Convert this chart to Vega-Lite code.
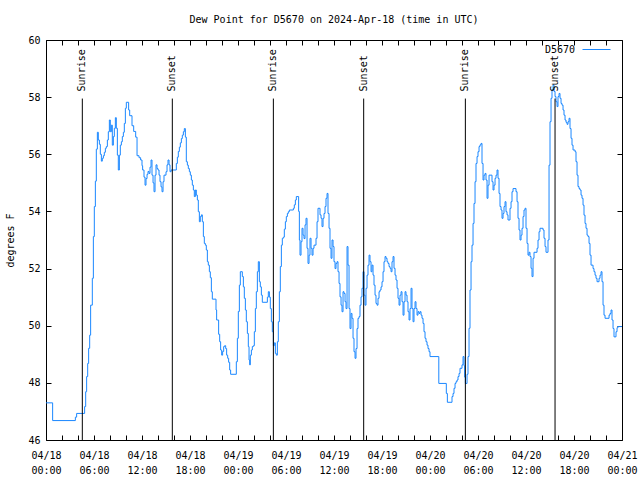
{
  "$schema": "https://vega.github.io/schema/vega-lite/v6.json",
  "width": 576,
  "height": 400,
  "autosize": {"type": "none"},
  "padding": {"left": 46, "top": 40, "right": 18, "bottom": 40},
  "title": {"text": "Dew Point for D5670 on 2024-Apr-18 (time in UTC)", "fontSize": 10, "fontWeight": "normal", "font": "DejaVu Sans Mono", "color": "#000000", "offset": 2, "baseline": "alphabetic", "anchor": "middle"},
  "config": {
    "font": "DejaVu Sans Mono",
    "view": {"stroke": "#000000", "strokeWidth": 1},
    "axis": {"grid": false, "domain": false, "tickColor": "#000000", "tickWidth": 1, "tickSize": -5, "labelColor": "#000000", "labelFontSize": 10, "labelFont": "DejaVu Sans Mono", "titleFont": "DejaVu Sans Mono", "titleFontSize": 10, "titleFontWeight": "normal", "titleColor": "#000000"}
  },
  "datasets": {
    "dew": [
      {"hour":0,"dewpoint":47.3},{"hour":0.83,"dewpoint":46.68},{"hour":3.67,"dewpoint":46.8},{"hour":3.83,"dewpoint":46.93},
      {"hour":4.83,"dewpoint":47.17},{"hour":4.96,"dewpoint":47.69},{"hour":5.08,"dewpoint":48.22},{"hour":5.21,"dewpoint":48.68},
      {"hour":5.33,"dewpoint":49.21},{"hour":5.46,"dewpoint":49.67},{"hour":5.58,"dewpoint":50.72},{"hour":5.79,"dewpoint":51.66},
      {"hour":5.92,"dewpoint":53.12},{"hour":6.04,"dewpoint":54.17},{"hour":6.17,"dewpoint":55.06},{"hour":6.29,"dewpoint":56.18},
      {"hour":6.42,"dewpoint":56.77},{"hour":6.54,"dewpoint":56.5},{"hour":6.67,"dewpoint":56.35},{"hour":6.79,"dewpoint":56.0},
      {"hour":6.92,"dewpoint":55.76},{"hour":7.04,"dewpoint":55.86},{"hour":7.17,"dewpoint":55.95},{"hour":7.29,"dewpoint":56.07},
      {"hour":7.42,"dewpoint":56.21},{"hour":7.54,"dewpoint":56.27},{"hour":7.67,"dewpoint":56.5},{"hour":7.79,"dewpoint":56.79},
      {"hour":7.92,"dewpoint":57.2},{"hour":8.04,"dewpoint":56.79},{"hour":8.17,"dewpoint":57.02},{"hour":8.29,"dewpoint":56.32},
      {"hour":8.42,"dewpoint":56.62},{"hour":8.54,"dewpoint":56.91},{"hour":8.67,"dewpoint":57.28},{"hour":8.79,"dewpoint":56.91},
      {"hour":8.92,"dewpoint":55.97},{"hour":9.04,"dewpoint":55.45},{"hour":9.17,"dewpoint":55.97},{"hour":9.29,"dewpoint":56.32},
      {"hour":9.42,"dewpoint":56.44},{"hour":9.54,"dewpoint":56.62},{"hour":9.67,"dewpoint":56.77},{"hour":9.79,"dewpoint":57.08},
      {"hour":9.92,"dewpoint":57.61},{"hour":10.04,"dewpoint":57.82},{"hour":10.33,"dewpoint":57.55},{"hour":10.46,"dewpoint":57.35},
      {"hour":10.75,"dewpoint":57.0},{"hour":10.96,"dewpoint":56.8},{"hour":11.21,"dewpoint":56.6},{"hour":11.38,"dewpoint":55.95},
      {"hour":11.63,"dewpoint":55.88},{"hour":11.83,"dewpoint":55.8},{"hour":12.0,"dewpoint":55.6},{"hour":12.08,"dewpoint":55.45},
      {"hour":12.25,"dewpoint":55.2},{"hour":12.38,"dewpoint":54.92},{"hour":12.5,"dewpoint":55.15},{"hour":12.63,"dewpoint":55.3},
      {"hour":12.75,"dewpoint":55.4},{"hour":12.88,"dewpoint":55.33},{"hour":13.0,"dewpoint":55.55},{"hour":13.13,"dewpoint":55.8},
      {"hour":13.25,"dewpoint":55.27},{"hour":13.38,"dewpoint":55.0},{"hour":13.5,"dewpoint":54.69},{"hour":13.63,"dewpoint":55.27},
      {"hour":13.75,"dewpoint":55.63},{"hour":13.88,"dewpoint":55.5},{"hour":14.0,"dewpoint":55.45},{"hour":14.13,"dewpoint":55.27},
      {"hour":14.25,"dewpoint":55.04},{"hour":14.38,"dewpoint":54.86},{"hour":14.5,"dewpoint":54.69},{"hour":14.63,"dewpoint":55.04},
      {"hour":14.75,"dewpoint":55.27},{"hour":15.0,"dewpoint":55.39},{"hour":15.13,"dewpoint":55.63},{"hour":15.25,"dewpoint":55.8},
      {"hour":15.38,"dewpoint":55.63},{"hour":15.5,"dewpoint":55.39},{"hour":15.63,"dewpoint":55.45},{"hour":16.29,"dewpoint":55.68},
      {"hour":16.42,"dewpoint":55.9},{"hour":16.54,"dewpoint":56.1},{"hour":16.67,"dewpoint":56.25},{"hour":16.79,"dewpoint":56.4},
      {"hour":16.92,"dewpoint":56.55},{"hour":17.04,"dewpoint":56.67},{"hour":17.17,"dewpoint":56.79},{"hour":17.29,"dewpoint":56.9},
      {"hour":17.42,"dewpoint":56.6},{"hour":17.54,"dewpoint":55.74},{"hour":17.67,"dewpoint":55.62},{"hour":17.79,"dewpoint":55.5},
      {"hour":17.92,"dewpoint":55.39},{"hour":18.04,"dewpoint":55.27},{"hour":18.17,"dewpoint":55.1},{"hour":18.29,"dewpoint":54.92},
      {"hour":18.42,"dewpoint":54.75},{"hour":18.54,"dewpoint":54.52},{"hour":18.67,"dewpoint":54.75},{"hour":18.79,"dewpoint":54.57},
      {"hour":18.92,"dewpoint":54.4},{"hour":19.04,"dewpoint":53.99},{"hour":19.17,"dewpoint":53.64},{"hour":19.29,"dewpoint":53.82},
      {"hour":19.42,"dewpoint":53.88},{"hour":19.54,"dewpoint":53.64},{"hour":19.67,"dewpoint":53.12},{"hour":19.79,"dewpoint":52.88},
      {"hour":19.92,"dewpoint":52.82},{"hour":20.04,"dewpoint":52.65},{"hour":20.17,"dewpoint":52.24},{"hour":20.29,"dewpoint":52.12},
      {"hour":20.42,"dewpoint":51.89},{"hour":20.54,"dewpoint":51.68},{"hour":20.67,"dewpoint":51.19},{"hour":20.79,"dewpoint":50.93},
      {"hour":21.25,"dewpoint":50.55},{"hour":21.33,"dewpoint":50.2},{"hour":21.58,"dewpoint":49.7},{"hour":21.71,"dewpoint":49.44},
      {"hour":21.83,"dewpoint":49.15},{"hour":21.96,"dewpoint":48.97},{"hour":22.08,"dewpoint":49.1},{"hour":22.21,"dewpoint":49.27},
      {"hour":22.33,"dewpoint":49.3},{"hour":22.46,"dewpoint":49.2},{"hour":22.58,"dewpoint":48.97},{"hour":22.71,"dewpoint":48.86},
      {"hour":22.83,"dewpoint":48.72},{"hour":22.96,"dewpoint":48.45},{"hour":23.08,"dewpoint":48.3},{"hour":23.79,"dewpoint":48.74},
      {"hour":23.92,"dewpoint":49.56},{"hour":24.04,"dewpoint":50.5},{"hour":24.17,"dewpoint":51.42},{"hour":24.29,"dewpoint":51.89},
      {"hour":24.54,"dewpoint":51.72},{"hour":24.67,"dewpoint":51.36},{"hour":24.79,"dewpoint":50.96},{"hour":24.92,"dewpoint":50.55},
      {"hour":25.04,"dewpoint":50.14},{"hour":25.17,"dewpoint":49.73},{"hour":25.29,"dewpoint":49.27},{"hour":25.38,"dewpoint":48.8},
      {"hour":25.46,"dewpoint":48.63},{"hour":25.54,"dewpoint":48.97},{"hour":25.67,"dewpoint":49.15},{"hour":25.79,"dewpoint":49.27},
      {"hour":25.92,"dewpoint":49.3},{"hour":26.04,"dewpoint":49.79},{"hour":26.17,"dewpoint":50.6},{"hour":26.29,"dewpoint":51.19},
      {"hour":26.42,"dewpoint":51.89},{"hour":26.54,"dewpoint":52.24},{"hour":26.67,"dewpoint":51.54},{"hour":26.79,"dewpoint":51.36},
      {"hour":26.92,"dewpoint":51.07},{"hour":27.04,"dewpoint":50.82},{"hour":27.67,"dewpoint":51.0},{"hour":27.79,"dewpoint":51.19},
      {"hour":27.92,"dewpoint":51.0},{"hour":28.04,"dewpoint":50.6},{"hour":28.17,"dewpoint":50.14},{"hour":28.29,"dewpoint":49.79},
      {"hour":28.42,"dewpoint":49.3},{"hour":28.54,"dewpoint":49.4},{"hour":28.67,"dewpoint":49.03},{"hour":28.79,"dewpoint":48.97},
      {"hour":28.92,"dewpoint":49.44},{"hour":29.04,"dewpoint":50.14},{"hour":29.17,"dewpoint":51.19},{"hour":29.29,"dewpoint":52.07},
      {"hour":29.42,"dewpoint":52.82},{"hour":29.54,"dewpoint":53.06},{"hour":29.67,"dewpoint":53.1},{"hour":29.79,"dewpoint":53.38},
      {"hour":29.92,"dewpoint":53.64},{"hour":30.04,"dewpoint":53.82},{"hour":30.17,"dewpoint":53.93},{"hour":30.29,"dewpoint":53.99},
      {"hour":30.42,"dewpoint":54.05},{"hour":30.92,"dewpoint":54.11},{"hour":31.04,"dewpoint":54.23},{"hour":31.17,"dewpoint":54.4},
      {"hour":31.29,"dewpoint":54.52},{"hour":31.58,"dewpoint":54.0},{"hour":31.67,"dewpoint":53.0},{"hour":31.75,"dewpoint":52.47},
      {"hour":31.88,"dewpoint":52.94},{"hour":32.0,"dewpoint":53.41},{"hour":32.13,"dewpoint":53.17},{"hour":32.25,"dewpoint":53.05},
      {"hour":32.38,"dewpoint":53.53},{"hour":32.5,"dewpoint":53.76},{"hour":32.63,"dewpoint":52.71},{"hour":32.75,"dewpoint":52.18},
      {"hour":32.88,"dewpoint":52.47},{"hour":33.0,"dewpoint":53.06},{"hour":33.13,"dewpoint":52.71},{"hour":33.25,"dewpoint":52.47},
      {"hour":33.38,"dewpoint":52.71},{"hour":33.5,"dewpoint":52.82},{"hour":33.75,"dewpoint":53.06},{"hour":33.88,"dewpoint":53.64},
      {"hour":34.0,"dewpoint":54.11},{"hour":34.25,"dewpoint":53.88},{"hour":34.38,"dewpoint":53.76},{"hour":34.5,"dewpoint":53.47},
      {"hour":34.63,"dewpoint":53.76},{"hour":34.75,"dewpoint":53.93},{"hour":34.88,"dewpoint":54.17},{"hour":35.0,"dewpoint":54.46},
      {"hour":35.13,"dewpoint":54.63},{"hour":35.25,"dewpoint":53.93},{"hour":35.38,"dewpoint":53.41},{"hour":35.5,"dewpoint":52.71},
      {"hour":35.63,"dewpoint":52.36},{"hour":35.75,"dewpoint":53.0},{"hour":35.88,"dewpoint":52.77},{"hour":36.0,"dewpoint":52.24},
      {"hour":36.13,"dewpoint":52.0},{"hour":36.25,"dewpoint":52.18},{"hour":36.38,"dewpoint":52.24},{"hour":36.5,"dewpoint":51.89},
      {"hour":36.63,"dewpoint":51.48},{"hour":36.75,"dewpoint":51.01},{"hour":36.88,"dewpoint":50.72},{"hour":37.0,"dewpoint":50.49},
      {"hour":37.13,"dewpoint":51.19},{"hour":37.25,"dewpoint":51.13},{"hour":37.38,"dewpoint":50.84},{"hour":37.5,"dewpoint":50.6},
      {"hour":37.63,"dewpoint":52.77},{"hour":37.75,"dewpoint":52.12},{"hour":37.88,"dewpoint":50.6},{"hour":38.0,"dewpoint":49.9},
      {"hour":38.13,"dewpoint":50.43},{"hour":38.25,"dewpoint":50.26},{"hour":38.38,"dewpoint":49.56},{"hour":38.5,"dewpoint":49.09},
      {"hour":38.63,"dewpoint":48.86},{"hour":38.75,"dewpoint":49.2},{"hour":38.88,"dewpoint":49.9},{"hour":39.0,"dewpoint":50.26},
      {"hour":39.13,"dewpoint":50.32},{"hour":39.25,"dewpoint":50.72},{"hour":39.38,"dewpoint":51.01},{"hour":39.5,"dewpoint":51.31},
      {"hour":39.63,"dewpoint":51.89},{"hour":39.75,"dewpoint":51.07},{"hour":39.88,"dewpoint":50.72},{"hour":40.0,"dewpoint":51.31},
      {"hour":40.13,"dewpoint":51.77},{"hour":40.25,"dewpoint":52.12},{"hour":40.38,"dewpoint":52.47},{"hour":40.5,"dewpoint":52.24},
      {"hour":40.63,"dewpoint":51.89},{"hour":40.75,"dewpoint":52.12},{"hour":40.88,"dewpoint":51.77},{"hour":41.0,"dewpoint":51.42},
      {"hour":41.13,"dewpoint":51.07},{"hour":41.25,"dewpoint":50.78},{"hour":41.38,"dewpoint":50.72},{"hour":41.5,"dewpoint":50.96},
      {"hour":41.63,"dewpoint":51.19},{"hour":41.75,"dewpoint":51.25},{"hour":41.88,"dewpoint":51.36},{"hour":42.0,"dewpoint":51.54},
      {"hour":42.13,"dewpoint":51.89},{"hour":42.25,"dewpoint":52.24},{"hour":42.38,"dewpoint":52.42},{"hour":42.5,"dewpoint":52.36},
      {"hour":42.63,"dewpoint":52.24},{"hour":42.75,"dewpoint":52.18},{"hour":42.88,"dewpoint":52.07},{"hour":43.0,"dewpoint":52.01},
      {"hour":43.13,"dewpoint":51.89},{"hour":43.25,"dewpoint":52.24},{"hour":43.38,"dewpoint":52.42},{"hour":43.5,"dewpoint":52.01},
      {"hour":43.63,"dewpoint":51.77},{"hour":43.75,"dewpoint":51.6},{"hour":43.88,"dewpoint":51.31},{"hour":44.0,"dewpoint":50.96},
      {"hour":44.13,"dewpoint":50.72},{"hour":44.25,"dewpoint":51.07},{"hour":44.38,"dewpoint":51.19},{"hour":44.5,"dewpoint":50.84},
      {"hour":44.63,"dewpoint":50.37},{"hour":44.75,"dewpoint":50.84},{"hour":44.88,"dewpoint":51.19},{"hour":45.0,"dewpoint":51.07},
      {"hour":45.13,"dewpoint":50.84},{"hour":45.25,"dewpoint":50.49},{"hour":45.38,"dewpoint":50.2},{"hour":45.5,"dewpoint":50.6},
      {"hour":45.63,"dewpoint":51.31},{"hour":45.75,"dewpoint":50.6},{"hour":45.88,"dewpoint":50.14},{"hour":46.0,"dewpoint":50.6},
      {"hour":46.13,"dewpoint":50.84},{"hour":46.25,"dewpoint":50.6},{"hour":46.38,"dewpoint":50.37},{"hour":46.5,"dewpoint":50.49},
      {"hour":46.63,"dewpoint":50.43},{"hour":46.75,"dewpoint":50.49},{"hour":46.88,"dewpoint":50.37},{"hour":47.0,"dewpoint":50.26},
      {"hour":47.13,"dewpoint":50.08},{"hour":47.25,"dewpoint":49.79},{"hour":47.38,"dewpoint":49.56},{"hour":47.5,"dewpoint":49.44},
      {"hour":47.63,"dewpoint":49.32},{"hour":47.75,"dewpoint":49.2},{"hour":47.88,"dewpoint":49.09},{"hour":48.0,"dewpoint":48.92},
      {"hour":49.1,"dewpoint":47.98},{"hour":50.04,"dewpoint":47.63},{"hour":50.17,"dewpoint":47.32},{"hour":50.75,"dewpoint":47.52},
      {"hour":50.88,"dewpoint":47.63},{"hour":51.0,"dewpoint":47.81},{"hour":51.13,"dewpoint":47.98},{"hour":51.25,"dewpoint":48.04},
      {"hour":51.38,"dewpoint":48.1},{"hour":51.5,"dewpoint":48.22},{"hour":51.63,"dewpoint":48.33},{"hour":51.75,"dewpoint":48.51},
      {"hour":52.0,"dewpoint":48.63},{"hour":52.13,"dewpoint":48.92},{"hour":52.25,"dewpoint":48.6},{"hour":52.33,"dewpoint":48.2},
      {"hour":52.42,"dewpoint":47.98},{"hour":52.63,"dewpoint":48.3},{"hour":52.75,"dewpoint":48.92},{"hour":52.88,"dewpoint":49.91},
      {"hour":53.0,"dewpoint":51.25},{"hour":53.13,"dewpoint":52.24},{"hour":53.25,"dewpoint":52.82},{"hour":53.38,"dewpoint":53.58},
      {"hour":53.5,"dewpoint":54.28},{"hour":53.63,"dewpoint":55.04},{"hour":53.75,"dewpoint":55.68},{"hour":53.88,"dewpoint":55.92},
      {"hour":54.0,"dewpoint":56.09},{"hour":54.13,"dewpoint":56.27},{"hour":54.25,"dewpoint":56.33},{"hour":54.38,"dewpoint":56.38},
      {"hour":54.5,"dewpoint":55.68},{"hour":54.63,"dewpoint":55.1},{"hour":54.75,"dewpoint":55.27},{"hour":54.88,"dewpoint":55.33},
      {"hour":55.0,"dewpoint":55.1},{"hour":55.13,"dewpoint":54.46},{"hour":55.25,"dewpoint":54.92},{"hour":55.38,"dewpoint":55.27},
      {"hour":55.75,"dewpoint":55.04},{"hour":55.88,"dewpoint":54.75},{"hour":56.0,"dewpoint":54.92},{"hour":56.13,"dewpoint":55.16},
      {"hour":56.25,"dewpoint":55.27},{"hour":56.38,"dewpoint":55.45},{"hour":56.5,"dewpoint":55.16},{"hour":56.63,"dewpoint":54.63},
      {"hour":56.75,"dewpoint":54.17},{"hour":56.88,"dewpoint":54.05},{"hour":57.0,"dewpoint":53.76},{"hour":57.13,"dewpoint":53.93},
      {"hour":57.25,"dewpoint":54.17},{"hour":57.38,"dewpoint":54.34},{"hour":57.5,"dewpoint":53.99},{"hour":57.63,"dewpoint":53.88},
      {"hour":57.75,"dewpoint":53.7},{"hour":58.0,"dewpoint":54.11},{"hour":58.13,"dewpoint":54.34},{"hour":58.25,"dewpoint":54.69},
      {"hour":58.38,"dewpoint":54.8},{"hour":58.75,"dewpoint":54.69},{"hour":58.88,"dewpoint":54.34},{"hour":59.0,"dewpoint":53.76},
      {"hour":59.13,"dewpoint":53.35},{"hour":59.25,"dewpoint":53.0},{"hour":59.38,"dewpoint":53.17},{"hour":59.5,"dewpoint":53.41},
      {"hour":59.63,"dewpoint":53.82},{"hour":59.75,"dewpoint":54.05},{"hour":59.88,"dewpoint":54.11},{"hour":60.0,"dewpoint":53.41},
      {"hour":60.13,"dewpoint":52.88},{"hour":60.25,"dewpoint":52.47},{"hour":60.38,"dewpoint":52.57},{"hour":60.5,"dewpoint":52.42},
      {"hour":60.63,"dewpoint":52.01},{"hour":60.75,"dewpoint":51.72},{"hour":60.88,"dewpoint":52.36},{"hour":61.0,"dewpoint":52.57},
      {"hour":61.38,"dewpoint":52.71},{"hour":61.5,"dewpoint":53.0},{"hour":61.63,"dewpoint":53.29},{"hour":61.75,"dewpoint":53.41},
      {"hour":62.13,"dewpoint":53.35},{"hour":62.25,"dewpoint":53.06},{"hour":62.38,"dewpoint":52.77},{"hour":62.5,"dewpoint":52.57},
      {"hour":62.75,"dewpoint":53.0},{"hour":62.88,"dewpoint":55.62},{"hour":63.0,"dewpoint":57.14},{"hour":63.13,"dewpoint":57.96},
      {"hour":63.25,"dewpoint":58.25},{"hour":63.38,"dewpoint":58.43},{"hour":63.5,"dewpoint":58.2},{"hour":63.63,"dewpoint":58.02},
      {"hour":63.75,"dewpoint":57.84},{"hour":63.88,"dewpoint":57.67},{"hour":64.0,"dewpoint":58.02},{"hour":64.13,"dewpoint":58.13},
      {"hour":64.25,"dewpoint":57.96},{"hour":64.38,"dewpoint":57.78},{"hour":64.5,"dewpoint":57.72},{"hour":64.63,"dewpoint":57.55},
      {"hour":64.75,"dewpoint":57.37},{"hour":64.88,"dewpoint":57.2},{"hour":65.0,"dewpoint":57.12},{"hour":65.13,"dewpoint":57.05},
      {"hour":65.25,"dewpoint":57.14},{"hour":65.38,"dewpoint":57.26},{"hour":65.5,"dewpoint":56.9},{"hour":65.63,"dewpoint":56.56},
      {"hour":65.75,"dewpoint":56.32},{"hour":65.88,"dewpoint":56.15},{"hour":66.13,"dewpoint":56.09},{"hour":66.25,"dewpoint":55.74},
      {"hour":66.38,"dewpoint":55.27},{"hour":66.5,"dewpoint":54.87},{"hour":66.63,"dewpoint":54.8},{"hour":66.75,"dewpoint":54.75},
      {"hour":66.88,"dewpoint":54.57},{"hour":67.0,"dewpoint":54.46},{"hour":67.13,"dewpoint":54.22},{"hour":67.25,"dewpoint":53.87},
      {"hour":67.38,"dewpoint":53.58},{"hour":67.5,"dewpoint":53.41},{"hour":67.63,"dewpoint":53.17},{"hour":67.75,"dewpoint":53.12},
      {"hour":67.88,"dewpoint":52.88},{"hour":68.0,"dewpoint":52.47},{"hour":68.13,"dewpoint":52.12},{"hour":68.38,"dewpoint":52.0},
      {"hour":68.5,"dewpoint":51.89},{"hour":68.63,"dewpoint":51.77},{"hour":68.75,"dewpoint":51.66},{"hour":68.88,"dewpoint":51.54},
      {"hour":69.13,"dewpoint":51.66},{"hour":69.25,"dewpoint":51.77},{"hour":69.38,"dewpoint":51.89},{"hour":69.5,"dewpoint":51.54},
      {"hour":69.63,"dewpoint":50.72},{"hour":69.75,"dewpoint":50.37},{"hour":69.88,"dewpoint":50.26},{"hour":70.38,"dewpoint":50.37},
      {"hour":70.5,"dewpoint":50.43},{"hour":70.63,"dewpoint":50.55},{"hour":70.75,"dewpoint":50.2},{"hour":70.88,"dewpoint":49.9},
      {"hour":71.0,"dewpoint":49.61},{"hour":71.25,"dewpoint":49.79},{"hour":71.38,"dewpoint":49.93},{"hour":71.5,"dewpoint":49.97},
      {"hour":72.0,"dewpoint":49.97}
    ],
    "sun": [
      {"hour":4.54,"event":"Sunrise"},{"hour":15.79,"event":"Sunset"},
      {"hour":28.42,"event":"Sunrise"},{"hour":39.71,"event":"Sunset"},
      {"hour":52.42,"event":"Sunrise"},{"hour":63.63,"event":"Sunset"}
    ]
  },
  "layer": [
    {
      "data": {"name": "dew"},
      "mark": {"type": "line", "interpolate": "step-after", "strokeWidth": 1},
      "encoding": {
        "x": {"field": "hour", "type": "quantitative", "scale": {"domain": [0, 72], "nice": false, "zero": false},
          "axis": {"orient": "bottom", "title": null, "values": [0,2,4,6,8,10,12,14,16,18,20,22,24,26,28,30,32,34,36,38,40,42,44,46,48,50,52,54,56,58,60,62,64,66,68,70,72],
            "labelExpr": "datum.value % 6 == 0 ? ['04/' + (18 + floor(datum.value / 24)), (datum.value % 24 < 10 ? '0' : '') + (datum.value % 24) + ':00'] : ''",
            "labelLineHeight": 15, "labelPadding": 15, "labelFlush": false, "labelOverlap": false, "labelBound": false}},
        "y": {"field": "dewpoint", "type": "quantitative", "scale": {"domain": [46, 60], "nice": false, "zero": false},
          "axis": {"orient": "left", "values": [46,48,50,52,54,56,58,60], "title": "degrees F", "labelPadding": 11,
            "titleX": -36, "titleY": 200, "titleAngle": 270, "titleAlign": "center", "titleBaseline": "middle"}},
        "color": {"datum": "D5670", "scale": {"range": ["#1a87ff"]},
          "legend": {"title": null, "orient": "none", "legendX": 536, "legendY": -5, "symbolType": "stroke", "symbolSize": 784, "symbolStrokeWidth": 1,
            "labelAlign": "right", "labelOffset": -36, "labelFontSize": 10, "labelColor": "#000000", "labelFont": "DejaVu Sans Mono", "padding": 0}}
      }
    },
    {
      "data": {"name": "sun"},
      "mark": {"type": "rule", "color": "#000000", "strokeWidth": 1},
      "encoding": {
        "x": {"field": "hour", "type": "quantitative",
          "axis": {"orient": "top", "title": null, "labels": false, "values": [0,2,4,6,8,10,12,14,16,18,20,22,24,26,28,30,32,34,36,38,40,42,44,46,48,50,52,54,56,58,60,62,64,66,68,70,72]}},
        "y": {"datum": 57.95, "type": "quantitative",
          "axis": {"orient": "right", "title": null, "labels": false, "values": [46,48,50,52,54,56,58,60]}},
        "y2": {"datum": 46}
      }
    },
    {
      "data": {"name": "sun"},
      "mark": {"type": "text", "angle": 270, "align": "left", "baseline": "middle", "fontSize": 10, "font": "DejaVu Sans Mono", "color": "#000000"},
      "encoding": {
        "x": {"field": "hour", "type": "quantitative", "axis": null},
        "y": {"datum": 58.2, "type": "quantitative", "axis": null},
        "text": {"field": "event"}
      }
    }
  ],
  "resolve": {"axis": {"x": "independent", "y": "independent"}}
}
